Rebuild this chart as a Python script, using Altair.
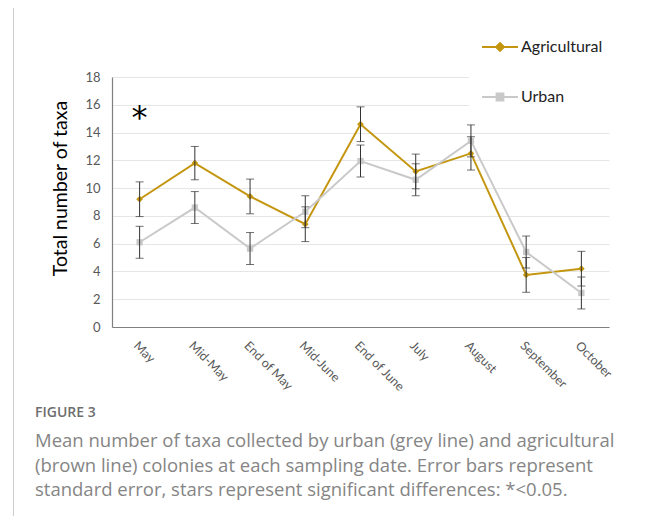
import altair as alt
import pandas as pd

dates = ["May", "Mid-May", "End of May", "Mid-June", "End of June",
         "July", "August", "September", "October"]
agri_mean = [9.2, 11.8, 9.4, 7.4, 14.6, 11.2, 12.5, 3.75, 4.2]
agri_se = [1.25, 1.2, 1.25, 1.25, 1.25, 1.25, 1.2, 1.25, 1.25]
urban_mean = [6.1, 8.6, 5.65, 8.3, 11.95, 10.6, 13.4, 5.4, 2.45]
urban_se = [1.15, 1.15, 1.15, 1.15, 1.15, 1.15, 1.15, 1.15, 1.15]
groups = ["Agricultural", "Urban"]
colors = ["#C4960F", "#C9C9C9"]
y_ticks = [0, 2, 4, 6, 8, 10, 12, 14, 16, 18]
star_date = "May"
star_y = 15.6
fig_label = "FIGURE 3"
caption = ["Mean number of taxa collected by urban (grey line) and agricultural",
           "(brown line) colonies at each sampling date. Error bars represent",
           "standard error, stars represent significant differences: *<0.05."]

rows = []
for g, m, s in [(groups[0], agri_mean, agri_se), (groups[1], urban_mean, urban_se)]:
    for d, mv, sv in zip(dates, m, s):
        rows.append({"date": d, "group": g, "mean": mv, "lo": mv - sv, "hi": mv + sv})
df = pd.DataFrame(rows)
star_df = pd.DataFrame({"date": [star_date], "y": [star_y], "t": ["*"]})

FONT = "Lato"

x_axis = alt.Axis(labelAngle=45, labelAlign="left", labelBaseline="top",
                  labelFont=FONT, labelFontSize=12.5, labelColor="#595959",
                  labelPadding=12, ticks=False, domainColor="#7F7F7F",
                  domainWidth=1.2, grid=False, labelOverlap=False)
x_scale = alt.Scale(type="point", padding=0.5)
y_scale = alt.Scale(domain=[0, 18], nice=False)
y_axis = alt.Axis(values=y_ticks, title="Total number of taxa",
                  titleFont=FONT, titleFontSize=19.5, titleFontWeight="normal",
                  titleColor="#000000", titlePadding=14, titleY=111,
                  labelFont=FONT, labelFontSize=13, labelColor="#595959",
                  labelPadding=12, ticks=False, domainColor="#7F7F7F",
                  domainWidth=1.2, grid=True, gridColor="#E6E6E6",
                  labelOverlap=False)


def X():
    return alt.X("date:N", sort=dates, title=None, scale=x_scale, axis=x_axis)


def Y(field):
    return alt.Y(field, scale=y_scale, axis=y_axis, title="Total number of taxa")


base = alt.Chart(df)
agri = base.transform_filter(alt.datum.group == groups[0])
urban = base.transform_filter(alt.datum.group == groups[1])

agri_line = agri.mark_line(strokeWidth=2, color=colors[0]).encode(x=X(), y=Y("mean:Q"))
urban_line = urban.mark_line(strokeWidth=2, color=colors[1]).encode(x=X(), y=Y("mean:Q"))

agri_pts = agri.mark_point(shape="diamond", filled=True, size=45, opacity=1,
                           color=colors[0]).encode(x=X(), y=Y("mean:Q"))
urban_pts = urban.mark_point(shape="square", filled=True, size=40, opacity=1,
                             color=colors[1]).encode(x=X(), y=Y("mean:Q"))

err_rule = base.mark_rule(color="#333333", strokeWidth=1).encode(
    x=X(), y=Y("lo:Q"), y2="hi:Q")
err_lo = base.mark_tick(color="#333333", thickness=1, size=8, orient="horizontal").encode(
    x=X(), y=Y("lo:Q"))
err_hi = base.mark_tick(color="#333333", thickness=1, size=8, orient="horizontal").encode(
    x=X(), y=Y("hi:Q"))

star = alt.Chart(star_df).mark_text(
    fontSize=32, font="DejaVu Sans", color="#000000", baseline="middle", dy=8
).encode(x=X(), y=Y("y:Q"), text="t:N")

leg = alt.Legend(title=None, orient="none", legendX=357, legendY=-61,
                 fillColor="white", padding=12, rowPadding=23,
                 symbolSize=1296, symbolStrokeWidth=2, symbolOpacity=1,
                 labelFont=FONT, labelFontSize=16, labelColor="#222222",
                 labelOffset=2)
legend_layer = base.transform_filter(alt.datum.mean < -100).mark_point(
    filled=True, strokeWidth=2, opacity=1
).encode(
    x=X(), y=Y("mean:Q"),
    fill=alt.Fill("group:N", scale=alt.Scale(domain=groups, range=colors), legend=leg),
    stroke=alt.Stroke("group:N", scale=alt.Scale(domain=groups, range=colors), legend=leg),
    shape=alt.Shape("group:N", scale=alt.Scale(
        domain=groups,
        range=["M-1,0H1M0,-0.22L0.22,0L0,0.22L-0.22,0Z",
               "M-1,0H1M-0.19,-0.19H0.19V0.19H-0.19Z"]), legend=leg),
)

one = pd.DataFrame({"a": [0]})
border = alt.Chart(one).mark_rect(
    fill=None, stroke="#CCCCCC", strokeWidth=1
).encode(x=alt.value(-98.5), x2=alt.value(700), y=alt.value(-70.5), y2=alt.value(700))

fig_text = alt.Chart(one).mark_text(
    text=fig_label, font="Open Sans", fontSize=14, fontWeight=600, color="#6E6E6E",
    align="left", baseline="middle"
).encode(x=alt.value(-77), y=alt.value(336))

cap_text = alt.Chart(one).mark_text(
    text=caption, font="Open Sans", fontSize=18.5, color="#858585",
    align="left", baseline="middle", lineHeight=24.5
).encode(x=alt.value(-77), y=alt.value(364))

chart = alt.layer(border, agri_line, urban_line, agri_pts, urban_pts,
                  err_rule, err_lo, err_hi, star, fig_text, cap_text,
                  legend_layer).properties(
    width=497, height=250,
    autosize=alt.AutoSizeParams(type="none"),
    padding={"left": 104, "top": 69, "right": 37, "bottom": 189},
).configure_view(stroke=None)

chart.save("out.html", embed_options={"renderer": "svg", "actions": False})
